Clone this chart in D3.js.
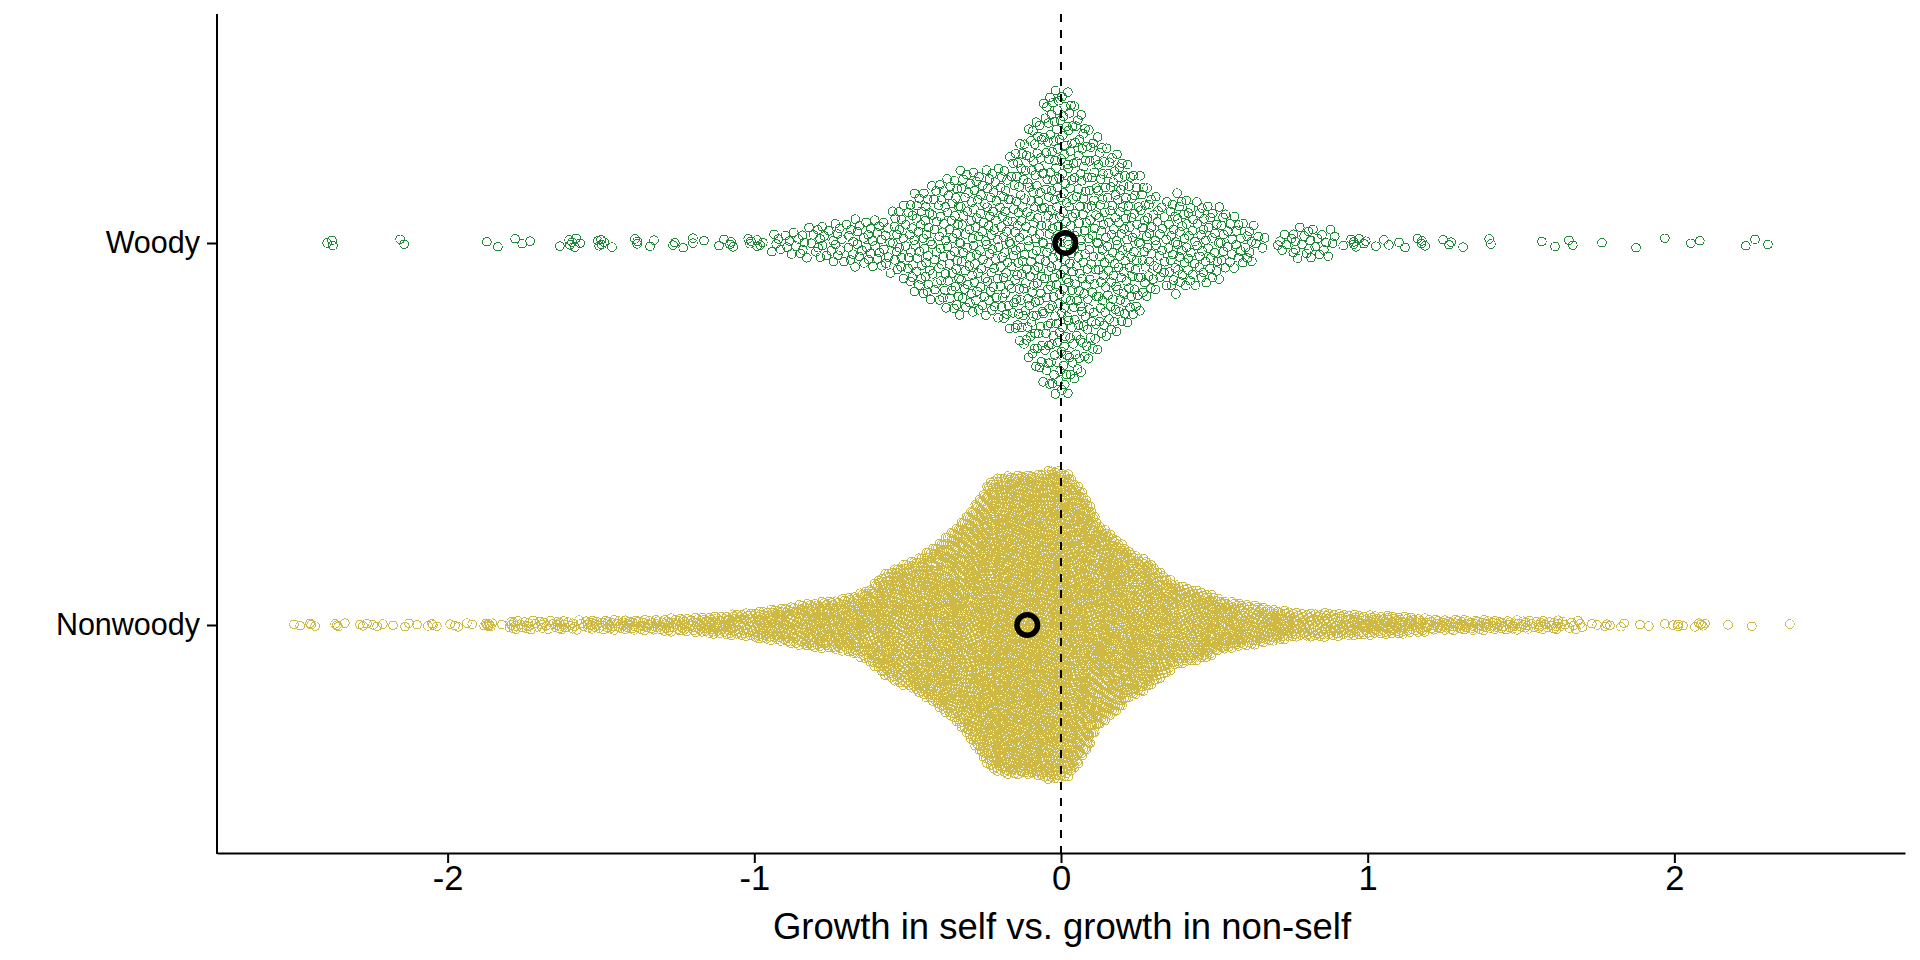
<!DOCTYPE html>
<html><head><meta charset="utf-8">
<script src="https://cdnjs.cloudflare.com/ajax/libs/d3/7.9.0/d3.min.js"></script>
<style>html,body{margin:0;padding:0;background:#fff}svg{display:block}text{font-family:"Liberation Sans",Arial,sans-serif;fill:#000}</style>
</head><body><svg id="c" width="1920" height="960"></svg>
<script>
const categories = ["Woody", "Nonwoody"];
const xTicks = [-2, -1, 0, 1, 2];
const xTitle = "Growth in self vs. growth in non-self";
const means = [0.014, -0.11];

// counts per 0.05-wide bin
const binStart = [-0.95, -1.8];
const binWidth = 0.05;
const woodyCounts = [5,7,8,10,11,13,13,14,19,27,30,35,38,38,39,43,56,68,81,79,66,54,48,42,32,22,27,23,22,18,14,10,2,5,9,9,7];
const nonwoodyCounts = [10,9,8,11,8,12,13,13,14,14,17,18,20,23,26,30,36,40,47,54,58,62,72,90,125,145,160,185,215,250,300,355,365,365,368,380,370,320,245,215,178,160,130,100,90,80,62,55,50,42,36,30,30,30,28,26,24,24,22,18,14,14,14,14,12,12,10,10,10,6];

// individually readable points in the tails
const woodyTails = [-2.393,-2.377,-2.374,-2.155,-2.142,-1.872,-1.836,-1.78,-1.757,-1.731,-1.634,-1.604,-1.601,-1.594,-1.585,-1.581,-1.568,-1.51,-1.506,-1.5,-1.497,-1.49,-1.464,-1.389,-1.382,-1.382,-1.34,-1.327,-1.265,-1.259,-1.232,-1.2,-1.2,-1.164,-1.115,-1.099,-1.079,-1.076,-1.069,-1.02,-1.014,-1.011,-0.991,-0.991,-0.981,-0.972,
  0.92,0.946,0.955,0.955,0.962,0.972,0.988,0.994,1.027,1.053,1.069,1.102,1.122,1.162,1.176,1.177,1.187,1.246,1.265,1.272,1.311,1.396,1.402,1.568,1.611,1.656,1.669,1.764,1.875,1.969,2.054,2.083,2.233,2.263,2.305];
const nonwoodyTails = [-2.501,-2.481,-2.449,-2.445,-2.432,-2.367,-2.361,-2.357,-2.335,-2.286,-2.276,-2.263,-2.243,-2.23,-2.211,-2.178,-2.139,-2.126,-2.1,-2.064,-2.051,-2.048,-2.035,-1.992,-1.976,-1.966,-1.937,-1.92,-1.881,-1.875,-1.872,-1.868,-1.865,-1.862,-1.859,-1.855,-1.823,
  1.7,1.731,1.748,1.774,1.78,1.79,1.826,1.836,1.888,1.917,1.969,1.995,2.012,2.012,2.028,2.067,2.08,2.087,2.093,2.1,2.175,2.253,2.377];

const colors = ["#208837", "#CDB943"];

const svg = d3.select("#c");
const x = d3.scaleLinear().domain([-2.752, 2.752]).range([217, 1905]);
const y = d3.scalePoint().domain(categories).range([243, 625]);
const plotTop = 14, plotBottom = 853;

function vdc(i, b) { let r = 0, f = 1 / b; while (i > 0) { r += f * (i % b); i = Math.floor(i / b); f /= b; } return r; }

function swarm(counts, start, tails, maxH, tailH, minH, base) {
  const centres = counts.map((_, i) => start + (i + 0.5) * binWidth);
  const hs = d3.scaleLinear().domain(centres).range(counts.map(c => c * maxH / d3.max(counts))).clamp(true);
  const vals = [];
  // low-discrepancy placement inside each bin, so the swarm does not form a regular lattice
  counts.forEach((c, i) => { for (let k = 0; k < c; k++) vals.push(start + (i + vdc(k + 1, 7)) * binWidth); });
  const pts = vals.concat(tails).sort(d3.ascending);
  return pts.map((v, i) => {
    const inTail = v < start || v > start + counts.length * binWidth;
    const h = inTail ? tailH : Math.max(hs(v), minH);
    return { v, off: (2 * vdc(i + 1, base) - 1) * h };
  });
}

const series = [
  swarm(woodyCounts, binStart[0], woodyTails, 156, 5, 6, 2),
  swarm(nonwoodyCounts, binStart[1], nonwoodyTails, 156, 2, 5, 3)
];

categories.forEach((cat, s) => {
  svg.append("g").attr("fill", "none").attr("stroke", colors[s]).attr("stroke-width", 1).attr("shape-rendering", "crispEdges")
    .selectAll("circle").data(series[s]).join("circle")
    .attr("cx", d => x(d.v)).attr("cy", d => y(cat) + d.off).attr("r", 4.3);
});

svg.append("line").attr("x1", x(0)).attr("x2", x(0)).attr("y1", plotTop).attr("y2", plotBottom)
  .attr("stroke", "#000").attr("stroke-width", 2).attr("stroke-dasharray", "8 8").attr("shape-rendering", "crispEdges");

svg.append("g").selectAll("circle").data(means).join("circle")
  .attr("cx", d => x(d)).attr("cy", (d, i) => y(categories[i])).attr("r", 10.3)
  .attr("fill", "none").attr("stroke", "#000").attr("stroke-width", 5.5);

const ax = svg.append("g").attr("transform", `translate(0,${plotBottom})`)
  .call(d3.axisBottom(x).tickValues(xTicks).tickFormat(d3.format("d")).tickSize(10).tickPadding(3).tickSizeOuter(0));
ax.selectAll("path,line").attr("stroke", "#000").attr("stroke-width", 2);
ax.selectAll("text").attr("font-size", 34.5).style("font-family", '"Liberation Sans"').text(d => String(d));
const ay = svg.append("g").attr("transform", `translate(217,0)`)
  .call(d3.axisLeft(y).tickSize(10).tickPadding(7).tickSizeOuter(0));
ay.select("path").attr("d", `M0,${plotTop}V${plotBottom + 1}`);
ay.selectAll("path,line").attr("stroke", "#000").attr("stroke-width", 2);
ay.selectAll("text").attr("font-size", 30.5).style("font-family", '"Liberation Sans"');

svg.append("text").attr("x", x(0) + 1).attr("y", 939).attr("text-anchor", "middle").attr("font-size", 36.5).text(xTitle);
</script></body></html>
